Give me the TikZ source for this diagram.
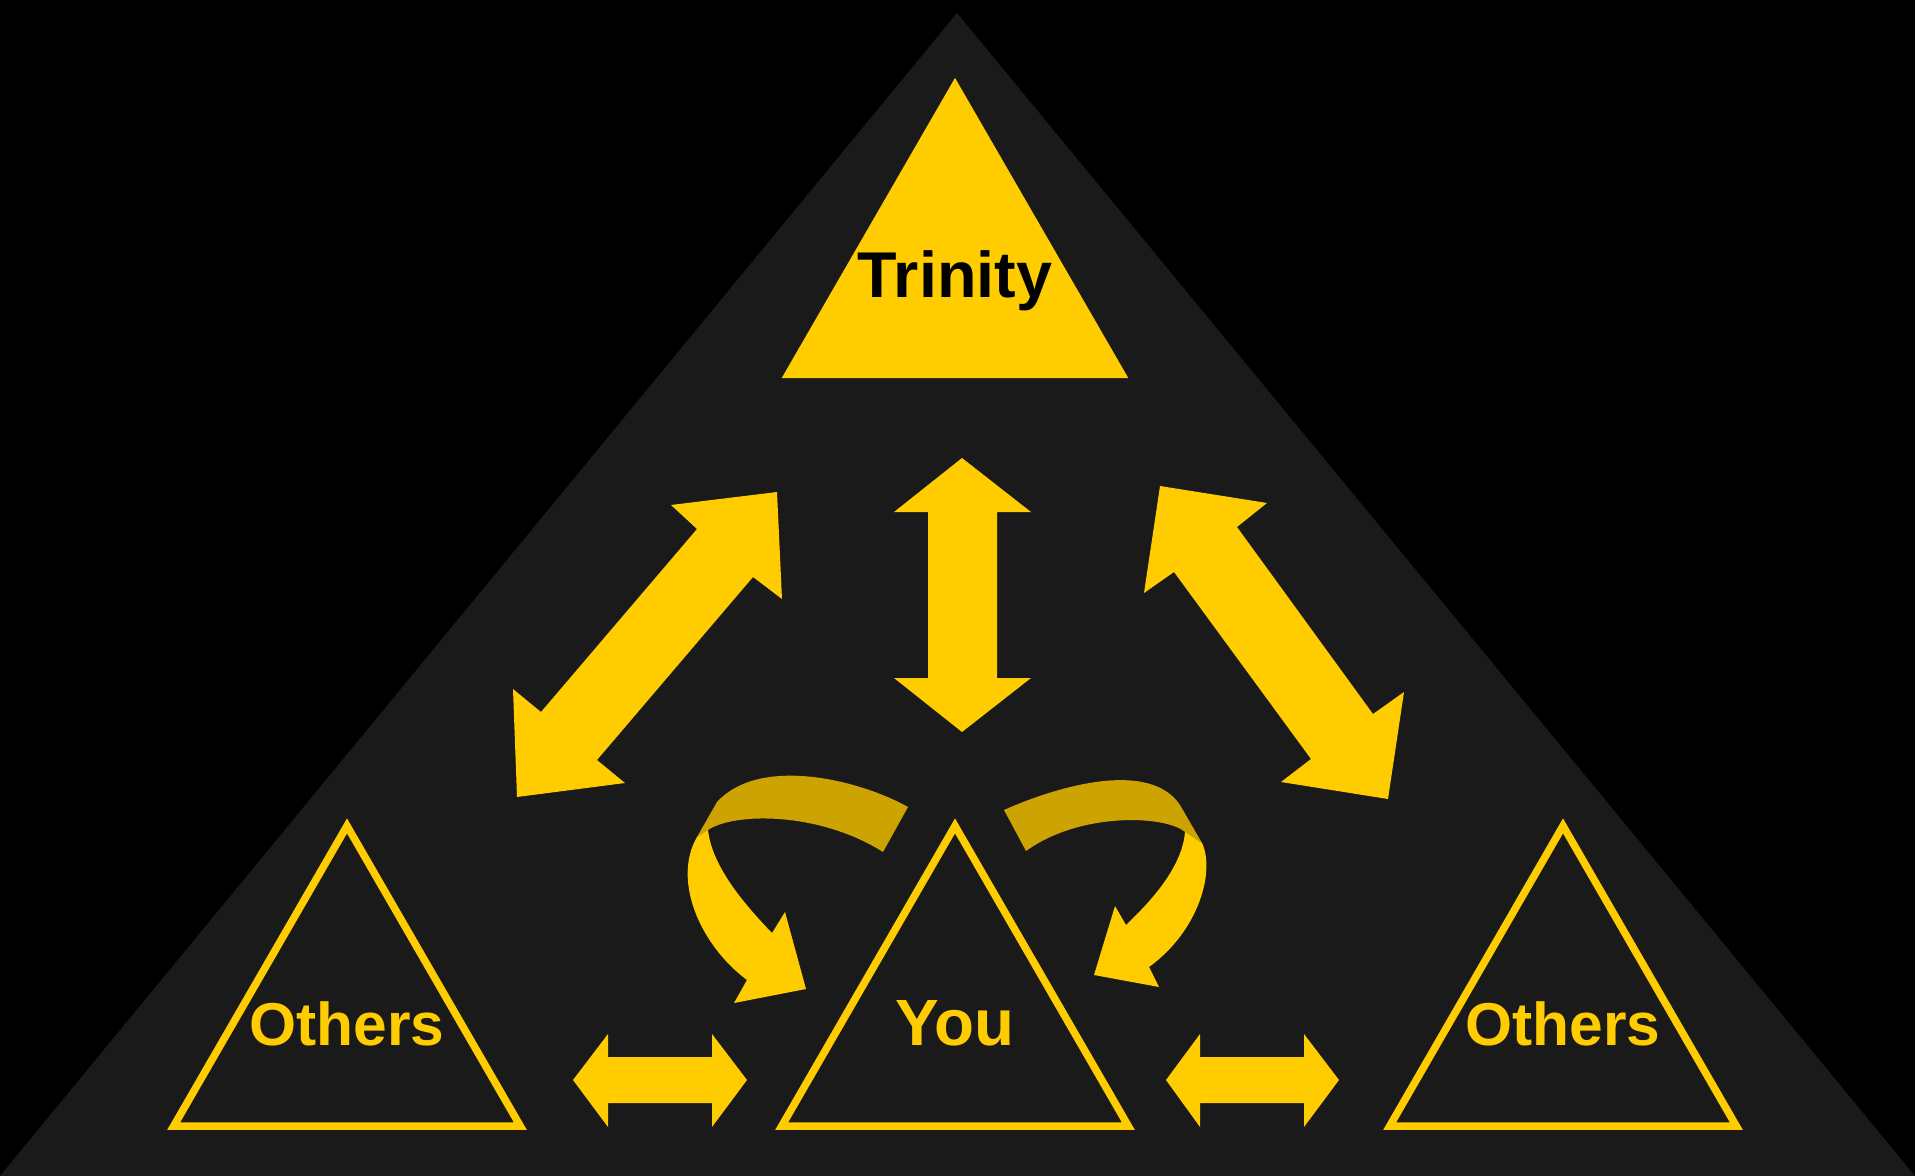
\documentclass[tikz,border=0pt]{standalone}
\usepackage{fontspec}
\setmainfont{Liberation Sans}
\usetikzlibrary{shapes.geometric}

\definecolor{gold}{HTML}{FFCC00}
\definecolor{darkgold}{HTML}{CCA300}
\definecolor{slate}{HTML}{1A1A1A}

\begin{document}
\begin{tikzpicture}[x=0.01cm,y=-0.01cm,line join=miter,
        tri/.style={regular polygon,regular polygon sides=3,minimum size=4cm,inner sep=0pt},
        open tri/.style={tri,draw=gold,line width=0.075cm},
        lbl/.style={inner sep=0pt,text height=0.39cm,text depth=0pt,text=gold,font=\bfseries}]
        \useasboundingbox (0,0) rectangle (1915,1176);
        \fill[black] (0,0) rectangle (1915,1176);
        \fill[slate] (957,13) -- (1915,1176) -- (0,1176) -- cycle;   %frame

        \node[tri,fill=gold] (trinity) at (955,278) {};
        \node[open tri] (othersL) at (347,1026) {};
        \node[open tri] (you) at (955,1026) {};
        \node[open tri] (othersR) at (1563,1026) {};
        \node[lbl,text=black,font=\fontsize{18.4}{22}\selectfont\bfseries] (trinityTxt) at (trinity.center) {Trinity};
        \node[lbl,font=\fontsize{17.2}{20}\selectfont\bfseries] (othersLTxt) at (othersL.center) {Others};
        \node[lbl,font=\fontsize{18.6}{22}\selectfont\bfseries] (youTxt) at (you.center) {You};
        \node[lbl,font=\fontsize{17.2}{20}\selectfont\bfseries] (othersRTxt) at (othersR.center) {Others};

        \fill[gold] (777,492) -- (782,599) -- (753,577) -- (597,760) -- (625,783) -- (517,797)
            -- (513,689) -- (541,712) -- (697,529) -- (671,505) -- cycle;     % trinity-othersL
        \fill[gold] (962,458) -- (1031,512) -- (997,512) -- (997,678) -- (1031,678) -- (962,732)
            -- (894,678) -- (928,678) -- (928,512) -- (894,512) -- cycle;     % trinity-you
        \fill[gold] (1160,486) -- (1267,503) -- (1237,527) -- (1373,714) -- (1404,692) -- (1388,799)
            -- (1281,782) -- (1311,759) -- (1174,572) -- (1144,593) -- cycle;  % trinity-othersR
        \fill[gold] (573,1080) -- (608,1034) -- (608,1057) -- (712,1057) -- (712,1034) -- (747,1080)
            -- (712,1127) -- (712,1103) -- (608,1103) -- (608,1127) -- cycle;  % othersL-you
        \fill[gold] (1166,1080) -- (1200,1034) -- (1200,1057) -- (1304,1057) -- (1304,1034) -- (1339,1080)
            -- (1304,1127) -- (1304,1103) -- (1200,1103) -- (1200,1127) -- cycle;  % you-othersR

        % turn back, left
        \fill[darkgold] (908,807) .. controls (860,780) and (760,755) .. (717,802) -- (697,837) -- (708,830)
            .. controls (735,812) and (820,812) .. (883,852) -- cycle;
        \fill[gold] (697,837) .. controls (672,880) and (700,945) .. (747,980) -- (734,1003) -- (806,989)
            -- (785,912) -- (772,933) .. controls (748,908) and (712,868) .. (708,830) -- cycle;
        % turn back, right
        \fill[darkgold] (1004,810) .. controls (1060,785) and (1150,760) .. (1180,805) -- (1202,843) -- (1185,832)
            .. controls (1165,815) and (1080,812) .. (1026,851) -- cycle;
        \fill[gold] (1202,843) .. controls (1215,870) and (1200,930) .. (1149,967) -- (1159,987) -- (1094,975)
            -- (1115,906) -- (1126,925) .. controls (1150,902) and (1182,868) .. (1185,832) -- cycle;
    \end{tikzpicture}
\end{document}
